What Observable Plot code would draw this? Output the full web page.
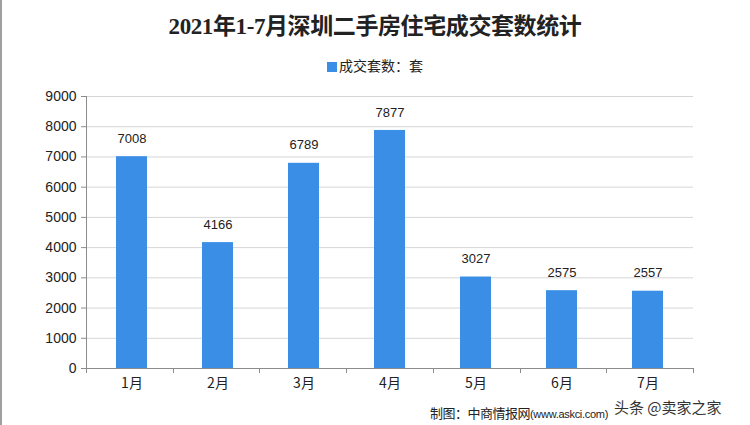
<!DOCTYPE html>
<html><head><meta charset="utf-8">
<script src="https://cdn.jsdelivr.net/npm/d3@7"></script>
<script src="https://cdn.jsdelivr.net/npm/@observablehq/plot@0.6"></script>
<style>
body{margin:0;background:#fff;}
#wrap{position:relative;width:750px;height:425px;overflow:hidden;background:#fff;font-family:"Liberation Sans","Noto Sans CJK SC",sans-serif;}
#lb{position:absolute;left:0;top:0;width:2px;height:425px;background:#a0a0a0;}
#title{position:absolute;top:14px;left:0;width:750px;text-align:center;font-family:"Liberation Serif","Noto Sans CJK SC",serif;font-size:23px;line-height:26px;font-weight:bold;color:#222;letter-spacing:-0.4px;}
#legend{position:absolute;top:55px;left:0;width:750px;text-align:center;font-size:14px;line-height:20px;color:#222;font-family:"Noto Sans CJK SC",sans-serif;}
#legend .sw{display:inline-block;width:10px;height:10px;background:#3a8ee6;margin-right:2px;vertical-align:-1px;}
#chart{position:absolute;top:82px;left:0;}
#footer{position:absolute;top:406px;right:142px;font-size:13px;line-height:13px;color:#222;font-family:"Noto Sans CJK SC",sans-serif;letter-spacing:-0.5px;white-space:nowrap;}
#footer .u{font-size:11px;font-family:"Liberation Sans",sans-serif;letter-spacing:-0.3px;}
#wm{position:absolute;top:399px;left:614px;font-size:15px;line-height:15px;color:#333;font-family:"Noto Sans CJK SC",sans-serif;white-space:nowrap;text-shadow:0 0 2px #fff,0 0 2px #fff,0 0 3px #fff;}
</style></head>
<body>
<div id="wrap">
<div id="lb"></div>
<div id="title"></div>
<div id="legend"></div>
<div id="chart"></div>
<div id="footer"></div>
<div id="wm"></div>
</div>
<script>
const titleText = "2021年1-7月深圳二手房住宅成交套数统计";
const seriesName = "成交套数：套";
const months = ["1月","2月","3月","4月","5月","6月","7月"];
const values = [7008, 4166, 6789, 7877, 3027, 2575, 2557];
const yTicks = [0,1000,2000,3000,4000,5000,6000,7000,8000,9000];
const footerMain = "制图：中商情报网";
const footerUrl = "(www.askci.com)";
const watermark = "头条 @卖家之家";

const barColor = "#3a8ee6";
const data = months.map((m,i)=>({month:m, value:values[i]}));

document.getElementById("title").textContent = titleText;
document.getElementById("legend").innerHTML = '<span class="sw"></span>' + seriesName;
document.getElementById("footer").innerHTML = footerMain + '<span class="u">' + footerUrl + '</span>';
document.getElementById("wm").textContent = watermark;

function boundaryTicks(index, scales, values, dims) {
  const g = d3.create("svg:g");
  const left = dims.marginLeft, right = dims.width - dims.marginRight;
  const n = months.length, step = (right-left)/n;
  const y0 = scales.y(0), yTop = scales.y(yTicks[yTicks.length-1]);
  g.append("line").attr("x1",left+0.5).attr("x2",left+0.5).attr("y1",yTop).attr("y2",y0+5).attr("stroke","#8c8c8c");
  for (let k=1;k<=n;k++){
    const x = Math.round(left + k*step)+0.5;
    g.append("line").attr("x1",x).attr("x2",x).attr("y1",y0).attr("y2",y0+5).attr("stroke","#8c8c8c");
  }
  return g.node();
}

const chart = Plot.plot({
  width: 750,
  height: 320,
  marginTop: 14,
  marginBottom: 34,
  marginLeft: 86,
  marginRight: 57,
  style: {fontFamily: "Liberation Sans, Arial, sans-serif", color:"#222", background:"transparent"},
  x: {domain: months, paddingInner: 0.64, paddingOuter: 0.32},
  y: {domain: [0, 9000]},
  marks: [
    Plot.ruleY(yTicks.filter(d=>d>0), {stroke: "#d6d6d6"}),
    Plot.barY(data, {x: "month", y: "value", fill: barColor}),
    Plot.text(data, {x: "month", y: "value", text: d => String(d.value), dy: -18, fontSize: 13, fill: "#222"}),
    Plot.ruleY([0], {stroke: "#8c8c8c"}),
    boundaryTicks,
    Plot.axisY({ticks: yTicks, tickFormat: d => String(d), tickSize: 5, tickPadding: 5, fontSize: 14, stroke: "#8c8c8c", label: null}),
    Plot.axisX({tickSize: 0, tickPadding: 10, fontSize: 14, label: null, fontFamily: "Noto Sans CJK SC, sans-serif"})
  ]
});
document.getElementById("chart").appendChild(chart);
</script>
</body></html>
